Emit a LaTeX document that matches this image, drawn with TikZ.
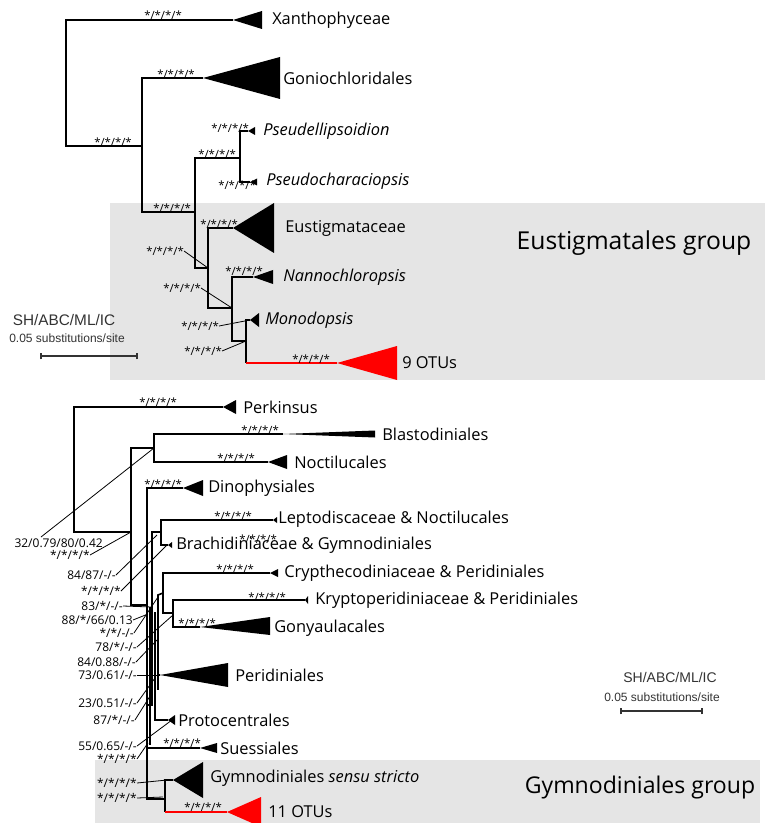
\documentclass[tikz,border=0pt]{standalone}
\usepackage{fontspec}
\setmainfont{Open Sans}
\newfontfamily\arialf{Liberation Sans}
\definecolor{boxgray}{HTML}{E5E5E5}
\definecolor{scalegray}{HTML}{333333}
\begin{document}
\begin{tikzpicture}[x=0.75pt,y=-0.75pt,
  tree/.style={line width=1.2pt},
  ptr/.style={line width=0.6pt},
  lab/.style={anchor=west,inner sep=0pt,font=\fontsize{12.3}{14}\selectfont},
  ilab/.style={anchor=west,inner sep=0pt,font=\fontsize{12.3}{14}\selectfont\itshape},
  stars/.style={inner sep=0pt,font=\fontsize{8.5}{9}\selectfont},
  plab/.style={anchor=east,inner sep=0pt,font=\fontsize{9}{10}\selectfont},
  grp/.style={inner sep=0pt,font=\fontsize{18.5}{20}\selectfont},
  scl/.style={inner sep=0pt,text=scalegray},
  bar/.style={draw=scalegray,line width=1pt},
]
\useasboundingbox (0,0) rectangle (765,823);
% group boxes
\fill[boxgray] (110,203) rectangle (765,380);
\fill[boxgray] (95,760) rectangle (760,823);

% ================= TOP TREE =================
\coordinate (Xt) at (233,20);
\coordinate (Gt) at (203,78);
\coordinate (PEt) at (248,131);
\coordinate (PCt) at (250,182);
\coordinate (Et) at (233,228);
\coordinate (Nt) at (253,277);
\coordinate (Mt) at (250,320);
\coordinate (Rt) at (337,363);
\coordinate (n0) at (66,83);
\coordinate (n1) at (142,146);
\coordinate (n2) at (195,212);
\coordinate (n3) at (240,158);
\coordinate (n4) at (208,268);
\coordinate (n5) at (232,308);
\coordinate (n6) at (246,341);
\coordinate (n6r) at (246,363);

\draw[tree] (Xt) -| (n0) |- (n1);
\draw[tree] (Gt) -| (n1) |- (n2);
\draw[tree] (n3) -| (n2) |- (n4);
\draw[tree] (PEt) -| (n3) |- (PCt);
\draw[tree] (Et) -| (n4) |- (n5);
\draw[tree] (Nt) -| (n5) |- (n6);
\draw[tree] (Mt) -| (n6) -- (n6r);
\draw[tree,red] (n6r) -- (Rt);

\fill (Xt) -- ++(29,-9) -- ++(0,18) -- cycle;
\fill (Gt) -- ++(77,-21) -- ++(0,42) -- cycle;
\fill (PEt) -- ++(7,-4) -- ++(0,8) -- cycle;
\fill (PCt) -- ++(7,-3.5) -- ++(0,7) -- cycle;
\fill (Et) -- ++(41,-25) -- ++(0,50) -- cycle;
\fill (Nt) -- ++(20,-7) -- ++(0,14) -- cycle;
\fill (Mt) -- ++(9,-7) -- ++(0,14) -- cycle;
\fill[red] (Rt) -- ++(60,-17) -- ++(0,34) -- cycle;

\node[lab] (LX) at (272,20) {Xanthophyceae};
\node[lab] (LG) at (283,78) {Goniochloridales};
\node[ilab] (LPE) at (263,131) {Pseudellipsoidion};
\node[ilab] (LPC) at (266,181) {Pseudocharaciopsis};
\node[lab] (LE) at (285,228) {Eustigmataceae};
\node[ilab] (LN) at (283,277) {Nannochloropsis};
\node[ilab] (LM) at (265,320) {Monodopsis};
\node[lab] (LR) at (402,363) {9 OTUs};
\node[grp] (LEG) at (634,243) {Eustigmatales group};

\node[stars] (s1) at (163,15) {*/*/*/*};
\node[stars] (s2) at (176,74) {*/*/*/*};
\node[stars] (s3) at (113,142) {*/*/*/*};
\node[stars] (s4) at (172,208) {*/*/*/*};
\node[stars] (s5) at (217,154) {*/*/*/*};
\node[stars] (s6) at (230,128) {*/*/*/*};
\node[stars] (s7) at (237,185) {*/*/*/*};
\node[stars] (s8) at (219,224) {*/*/*/*};
\node[stars] (s9) at (244,271) {*/*/*/*};
\node[stars] (s10) at (311,359) {*/*/*/*};
\node[stars] (s11) at (165,251) {*/*/*/*};
\node[stars] (s12) at (182,288) {*/*/*/*};
\node[stars] (s13) at (200,326) {*/*/*/*};
\node[stars] (s14) at (203,351) {*/*/*/*};
\draw[ptr] (s11.east) -- (n4);
\draw[ptr] (s12.east) -- (n5);
\draw[ptr] (s13.east) -- (Mt);
\draw[ptr] (s14.east) -- (n6);

\node[scl,font=\arialf\fontsize{11.5}{12}\selectfont] (sc1) at (64,320) {SH/ABC/ML/IC};
\node[scl,font=\arialf\fontsize{9}{11}\selectfont] (sc2) at (67,338) {0.05 substitutions/site};
\coordinate (b1l) at (41,356);
\coordinate (b1r) at (137,356);
\draw[bar] (b1l) -- (b1r);
\draw[bar] ([yshift=-2.5pt]b1l) -- ([yshift=2.5pt]b1l);
\draw[bar] ([yshift=-2.5pt]b1r) -- ([yshift=2.5pt]b1r);

% ================= BOTTOM TREE =================
\coordinate (Pkt) at (223,407);
\coordinate (Blt) at (283,434);
\coordinate (Nct) at (268,462);
\coordinate (Dit) at (183,488);
\coordinate (Let) at (273,520);
\coordinate (Brt) at (168,545);
\coordinate (Crt) at (270,573);
\coordinate (Krt) at (305,600);
\coordinate (Got) at (200,627);
\coordinate (Pet) at (160,675);
\coordinate (Prt) at (168,720);
\coordinate (Sut) at (200,748);
\coordinate (Gyt) at (173,780);
\coordinate (Rdt) at (227,812);
\coordinate (m0) at (74,470);
\coordinate (m1) at (131,532);
\coordinate (m2) at (154,448);
\coordinate (m3) at (147,605);
\coordinate (m4) at (165,799);
\coordinate (m4r) at (165,812);
\coordinate (m3s) at (147,748);
\coordinate (k1) at (152,532);
\coordinate (k1b) at (152,705);
\coordinate (k1c) at (147,705);
\coordinate (k2) at (161,532);
\coordinate (k3) at (158,595);
\coordinate (k3b) at (158,690);
\coordinate (k4) at (163,593);
\coordinate (k5) at (173,613);
\coordinate (k6) at (155,612);
\coordinate (k7) at (150,607);
\coordinate (k7b) at (150,745);

\draw[tree] (Pkt) -| (m0) |- (m1);
\draw[tree] (m2) -| (m1) |- (m3);
\draw[tree] (Blt) -| (m2) |- (Nct);
\draw[tree] (Dit) -| (m3) |- (m4);
\draw[tree] (Gyt) -| (m4) -- (m4r);
\draw[tree,red] (m4r) -- (Rdt);
\draw[tree] (m3s) -- (Sut);
\draw[tree] (Let) -| (k2) |- (Brt);
\draw[tree] (k2) -- (k1) -- (k1b) -- (k1c);
\draw[tree] (Crt) -| (k4) |- (k5);
\draw[tree] (Krt) -| (k5) |- (Got);
\draw[tree] (k4) -- (k3) |- (Pet);
\draw[tree] (k3) -- (k3b);
\draw[tree] (k6) |- (Prt);
\draw[tree] (k7) -- (k7b);

\fill (Pkt) -- ++(13,-7) -- ++(0,14) -- cycle;
\fill (Blt) -- ++(92,-3.5) -- ++(0,7) -- cycle;
\fill (Nct) -- ++(19,-7) -- ++(0,14) -- cycle;
\fill (Dit) -- ++(20,-8) -- ++(0,16) -- cycle;
\fill (Let) -- ++(4,-3) -- ++(0,6) -- cycle;
\fill (Brt) -- ++(4,-3) -- ++(0,6) -- cycle;
\fill (Crt) -- ++(8,-4) -- ++(0,8) -- cycle;
\fill (Krt) -- ++(3,-4) -- ++(0,8) -- cycle;
\fill (Got) -- ++(70,-10) -- ++(0,18) -- cycle;
\fill (Pet) -- ++(68,-12) -- ++(0,24) -- cycle;
\fill (Prt) -- ++(7,-5) -- ++(0,10) -- cycle;
\fill (Sut) -- ++(17,-5) -- ++(0,10) -- cycle;
\fill (Gyt) -- ++(30,-18) -- ++(0,36) -- cycle;
\fill[red] (Rdt) -- ++(34,-15) -- ++(0,30) -- cycle;

\node[lab] (LPk) at (243,407) {Perkinsus};
\node[lab] (LBl) at (382,434) {Blastodiniales};
\node[lab] (LNc) at (294,462) {Noctilucales};
\node[lab] (LDi) at (208,488) {Dinophysiales};
\node[lab] (LLe) at (278,519) {Leptodiscaceae \& Noctilucales};
\node[lab] (LBr) at (176,545) {Brachidiniaceae \& Gymnodiniales};
\node[lab] (LCr) at (284,573) {Crypthecodiniaceae \& Peridiniales};
\node[lab] (LKr) at (315,600) {Kryptoperidiniaceae \& Peridiniales};
\node[lab] (LGo) at (274,628) {Gonyaulacales};
\node[lab] (LPe) at (235,675) {Peridiniales};
\node[lab] (LPr) at (178,720) {Protocentrales};
\node[lab] (LSu) at (220,748) {Suessiales};
\node[lab] (LGy) at (210,778) {Gymnodiniales \textit{sensu stricto}};
\node[lab] (LRd) at (268,812) {11 OTUs};
\node[grp,font=\fontsize{17.3}{19}\selectfont] (LGG) at (640,787) {Gymnodiniales group};

\node[stars] (t1) at (158,402) {*/*/*/*};
\node[stars] (t2) at (260,430) {*/*/*/*};
\node[stars] (t3) at (236,458) {*/*/*/*};
\node[stars] (t4) at (163,484) {*/*/*/*};
\node[stars] (t5) at (233,516) {*/*/*/*};
\node[stars] (t6) at (258,539) {*/*/*/*};
\node[stars] (t7) at (235,569) {*/*/*/*};
\node[stars] (t8) at (267,597) {*/*/*/*};
\node[stars] (t9) at (197,623) {*/*/*/*};
\node[stars] (t10) at (182,743) {*/*/*/*};
\node[stars] (t11) at (203,807) {*/*/*/*};

\coordinate (q1a) at (41,537);
\coordinate (g3) at (157,535);
\coordinate (g4) at (167,545);
\coordinate (g5) at (152,607);
\coordinate (g6) at (148,614);
\coordinate (g7) at (158,597);
\coordinate (g8) at (173,615);
\coordinate (g9) at (157,640);
\coordinate (g11) at (155,678);
\coordinate (g12) at (152,693);
\coordinate (g13) at (172,720);
\coordinate (g14) at (148,743);
\coordinate (g15) at (167,780);
\coordinate (g16) at (163,797);

\node[plab] (q1) at (103,543) {32/0.79/80/0.42};
\node[plab] (q2) at (90,555) {*/*/*/*};
\node[plab] (q3) at (116,575) {84/87/-/-};
\node[plab] (q4) at (121,591) {*/*/*/*};
\node[plab] (q5) at (123,606) {83/*/-/-};
\node[plab] (q6) at (133,620) {88/*/66/0.13};
\node[plab] (q7) at (134,633) {*/*/-/-};
\node[plab] (q8) at (137,647) {78/*/-/-};
\node[plab] (q9) at (136,662) {84/0.88/-/-};
\node[plab] (q10) at (137,675) {73/0.61/-/-};
\node[plab] (q11) at (137,703) {23/0.51/-/-};
\node[plab] (q12) at (135,720) {87/*/-/-};
\node[plab] (q13) at (137,746) {55/0.65/-/-};
\node[plab] (q14) at (137,759) {*/*/*/*};
\node[plab] (q15) at (137,783) {*/*/*/*};
\node[plab] (q16) at (137,798) {*/*/*/*};

\draw[ptr] (q1a) -- (m2);
\draw[ptr] (q2.east) -- (m1);
\draw[ptr] (q3.east) -- (g3);
\draw[ptr] (q4.east) -- (g4);
\draw[ptr] (q5.east) -- (g5);
\draw[ptr] (q6.east) -- (g6);
\draw[ptr] (q7.east) -- (g7);
\draw[ptr] (q8.east) -- (g8);
\draw[ptr] (q9.east) -- (g9);
\draw[ptr] (q10.east) -- (Pet);
\draw[ptr] (q11.east) -- (g11);
\draw[ptr] (q12.east) -- (g12);
\draw[ptr] (q13.east) -- (g13);
\draw[ptr] (q14.east) -- (g14);
\draw[ptr] (q15.east) -- (g15);
\draw[ptr] (q16.east) -- (g16);

\node[scl,font=\arialf\fontsize{10.5}{11}\selectfont] (sc3) at (670,677) {SH/ABC/ML/IC};
\node[scl,font=\arialf\fontsize{9}{10}\selectfont] (sc4) at (662,697) {0.05 substitutions/site};
\coordinate (b2l) at (621,711);
\coordinate (b2r) at (702,711);
\draw[bar] (b2l) -- (b2r);
\draw[bar] ([yshift=-2.5pt]b2l) -- ([yshift=2.5pt]b2l);
\draw[bar] ([yshift=-2.5pt]b2r) -- ([yshift=2.5pt]b2r);
\end{tikzpicture}
\end{document}
